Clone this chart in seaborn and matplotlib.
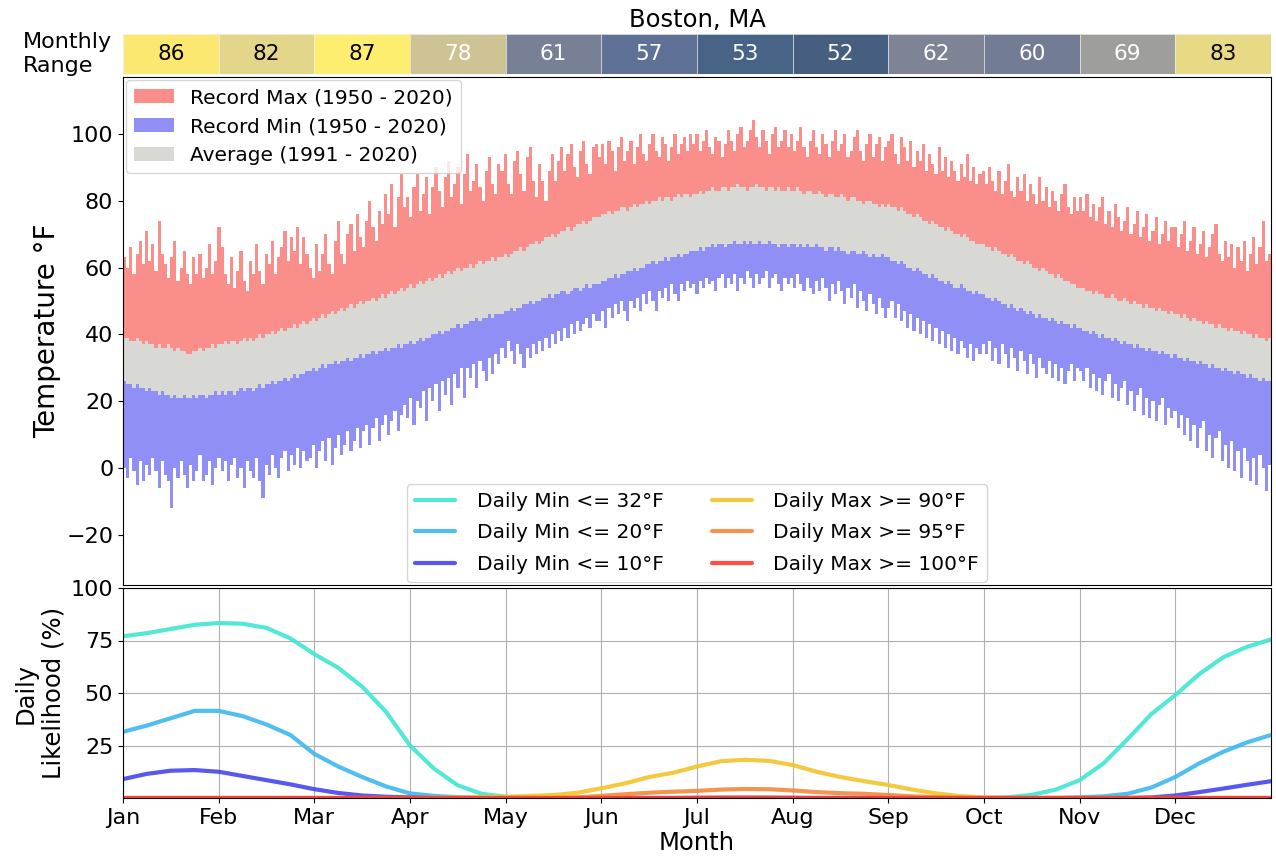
import numpy as np
import matplotlib
matplotlib.use("Agg")
import matplotlib.pyplot as plt
import seaborn as sns

# Boston, MA daily climate normals / records
month_names = ['Jan', 'Feb', 'Mar', 'Apr', 'May', 'Jun',
               'Jul', 'Aug', 'Sep', 'Oct', 'Nov', 'Dec']
month_range = [86, 82, 87, 78, 61, 57, 53, 52, 62, 60, 69, 83]

# one value per day of the year, month by month
rec_max = [
    63, 60, 66, 58, 64, 68, 61, 71, 62, 67, 59, 74, 64, 61, 57, 63, 68, 56, 60, 65, 58, 55, 63, 58, 64, 57, 60, 67, 58, 62, 72,
    66, 58, 55, 63, 54, 59, 65, 56, 53, 62, 58, 67, 59, 55, 64, 61, 68, 58, 63, 66, 71, 62, 69, 65, 72, 61, 69, 64,
    60, 57, 67, 59, 64, 70, 61, 58, 68, 74, 64, 61, 70, 73, 65, 76, 69, 66, 74, 80, 72, 68, 77, 73, 82, 76, 85, 72, 81, 88, 78,
    81, 75, 84, 88, 77, 82, 87, 76, 84, 90, 83, 78, 87, 92, 81, 85, 90, 79, 88, 94, 83, 86, 91, 84, 80, 89, 93, 85, 82, 91,
    89, 94, 85, 82, 92, 95, 88, 83, 93, 96, 86, 81, 91, 86, 80, 89, 94, 86, 92, 96, 89, 94, 97, 90, 87, 95, 98, 91, 88, 96, 97,
    93, 97, 91, 98, 95, 89, 96, 99, 92, 95, 98, 91, 96, 100, 94, 92, 97, 100, 95, 93, 99, 97, 92, 96, 100, 94, 97, 99, 95, 100,
    97, 100, 95, 98, 101, 96, 94, 99, 98, 93, 97, 101, 98, 95, 100, 102, 96, 98, 101, 104, 99, 96, 101, 98, 94, 100, 102, 96, 98, 101, 96,
    100, 95, 98, 102, 96, 93, 98, 101, 96, 94, 100, 97, 93, 98, 101, 95, 97, 100, 93, 95, 99, 101, 95, 92, 97, 100, 93, 97, 99, 92, 96,
    98, 100, 94, 91, 99, 96, 92, 98, 90, 95, 92, 97, 89, 94, 91, 88, 96, 89, 93, 87, 92, 89, 86, 91, 87, 94, 86, 90, 85, 88,
    89, 85, 90, 86, 83, 89, 82, 86, 91, 83, 81, 87, 83, 88, 80, 85, 82, 79, 87, 80, 84, 78, 83, 80, 77, 82, 85, 78, 76, 81, 77,
    81, 77, 82, 75, 79, 74, 78, 81, 73, 77, 72, 79, 75, 71, 74, 78, 70, 73, 77, 69, 72, 76, 68, 71, 75, 67, 70, 74, 68, 72,
    72, 66, 70, 74, 65, 68, 72, 64, 67, 71, 63, 66, 70, 73, 64, 62, 68, 63, 67, 60, 66, 62, 68, 59, 64, 69, 61, 66, 74, 62, 64,
]
avg_high = [
    39, 39, 38, 38, 39, 38, 37, 38, 37, 37, 36, 37, 36, 36, 37, 36, 35, 36, 35, 35, 34, 34, 35, 35, 36, 35, 36, 36, 37, 36, 37,
    37, 38, 37, 38, 38, 37, 38, 39, 38, 39, 38, 39, 40, 39, 40, 40, 41, 40, 41, 42, 41, 42, 42, 43, 42, 43, 44, 43,
    44, 45, 44, 45, 46, 45, 46, 47, 46, 47, 48, 47, 48, 49, 48, 49, 50, 49, 50, 50, 51, 50, 51, 52, 51, 52, 53, 52, 53, 54, 53,
    54, 55, 54, 55, 56, 55, 56, 57, 56, 57, 58, 57, 58, 59, 58, 59, 60, 59, 60, 60, 61, 60, 61, 62, 61, 62, 62, 63, 62, 63,
    63, 64, 63, 64, 65, 65, 66, 65, 66, 67, 67, 68, 67, 68, 69, 69, 70, 69, 70, 71, 71, 72, 71, 72, 73, 73, 74, 73, 74, 75, 75,
    75, 76, 76, 77, 76, 77, 77, 78, 78, 77, 78, 79, 78, 79, 79, 80, 79, 80, 80, 81, 80, 81, 81, 80, 81, 82, 81, 82, 82, 81,
    82, 82, 83, 82, 83, 83, 84, 83, 83, 84, 84, 83, 84, 84, 85, 84, 84, 83, 84, 84, 85, 84, 84, 83, 84, 84, 83, 84, 83, 83, 84,
    83, 83, 84, 83, 82, 83, 83, 82, 82, 83, 82, 81, 82, 82, 81, 81, 82, 81, 80, 81, 81, 80, 80, 79, 80, 80, 79, 79, 78, 79, 78,
    79, 78, 78, 77, 78, 77, 76, 76, 75, 76, 75, 74, 74, 73, 74, 73, 72, 72, 71, 72, 71, 70, 70, 69, 70, 69, 68, 68, 67, 67,
    67, 66, 66, 65, 66, 65, 64, 64, 63, 64, 63, 62, 62, 61, 62, 61, 60, 60, 59, 60, 59, 58, 58, 57, 58, 57, 56, 56, 55, 55, 54,
    54, 54, 53, 53, 52, 53, 52, 52, 51, 51, 52, 51, 50, 50, 51, 50, 49, 50, 49, 49, 48, 49, 48, 48, 47, 48, 47, 47, 46, 47,
    46, 46, 45, 46, 45, 44, 45, 44, 44, 43, 44, 43, 43, 42, 43, 42, 42, 41, 42, 41, 41, 40, 41, 40, 40, 39, 40, 39, 39, 38, 39,
]
avg_low = [
    26, 25, 25, 24, 25, 24, 24, 23, 24, 23, 23, 22, 23, 22, 22, 21, 22, 21, 21, 22, 21, 21, 22, 21, 22, 22, 21, 22, 22, 23, 22,
    23, 22, 23, 23, 22, 23, 24, 23, 24, 24, 23, 24, 25, 24, 25, 25, 26, 25, 26, 26, 27, 26, 27, 28, 27, 28, 28, 29,
    29, 30, 29, 30, 31, 30, 31, 31, 32, 31, 32, 32, 33, 32, 33, 33, 34, 33, 34, 34, 35, 34, 35, 35, 36, 35, 36, 36, 37, 36, 37,
    37, 38, 37, 38, 39, 38, 39, 39, 40, 40, 41, 40, 41, 41, 42, 42, 43, 42, 43, 43, 44, 44, 45, 44, 45, 45, 46, 45, 46, 46,
    46, 47, 47, 48, 47, 48, 48, 49, 49, 50, 49, 50, 50, 51, 51, 52, 51, 52, 52, 53, 53, 52, 53, 54, 54, 53, 54, 55, 54, 55, 55,
    55, 56, 56, 57, 57, 58, 57, 58, 58, 59, 59, 60, 59, 60, 60, 61, 61, 62, 61, 62, 62, 63, 62, 63, 63, 64, 63, 64, 64, 65,
    65, 65, 66, 65, 66, 66, 67, 66, 67, 67, 66, 67, 67, 68, 67, 67, 68, 67, 68, 67, 67, 68, 67, 67, 68, 67, 67, 66, 67, 67, 66,
    67, 67, 66, 67, 66, 67, 66, 66, 67, 66, 66, 65, 66, 66, 65, 66, 65, 65, 64, 65, 65, 64, 64, 65, 64, 63, 64, 63, 63, 64, 63,
    63, 62, 62, 61, 62, 61, 60, 60, 59, 60, 59, 58, 58, 57, 58, 57, 56, 56, 55, 56, 55, 54, 54, 55, 54, 53, 53, 52, 53, 52,
    52, 51, 51, 50, 51, 50, 49, 49, 48, 49, 48, 47, 48, 47, 46, 47, 46, 45, 46, 45, 45, 44, 45, 44, 43, 44, 43, 43, 42, 43, 42,
    42, 41, 41, 40, 41, 40, 39, 40, 39, 39, 38, 39, 38, 37, 38, 37, 37, 36, 37, 36, 36, 35, 36, 35, 35, 34, 35, 34, 34, 33,
    34, 33, 33, 32, 33, 32, 32, 31, 32, 31, 31, 30, 31, 30, 30, 29, 30, 29, 29, 28, 29, 28, 28, 27, 28, 27, 27, 26, 27, 26, 26,
]
rec_min = [
    0, -3, 3, -1, -5, 2, -4, 1, -2, 3, -1, -6, 2, -2, -4, -12, 0, -3, 2, -2, -6, 1, -4, -1, 4, -4, -2, 2, -5, 0, 3,
    -1, 2, -4, 1, 3, -3, 0, -6, 2, -1, -3, 3, -4, -9, 1, -2, 4, 0, -3, 3, 5, -1, 4, 1, 6, 0, 5, 2,
    3, 7, 0, 5, 8, 2, 9, 1, 6, 10, 4, 7, 11, 5, 8, 12, 6, 11, 13, 7, 12, 15, 8, 13, 16, 10, 14, 17, 11, 16, 19,
    15, 21, 13, 20, 18, 23, 14, 24, 20, 25, 17, 26, 22, 27, 19, 28, 24, 30, 21, 30, 27, 31, 24, 32, 29, 26, 33, 28, 34, 31,
    36, 33, 38, 35, 31, 37, 34, 30, 36, 33, 37, 34, 38, 35, 39, 36, 40, 37, 41, 38, 42, 39, 43, 40, 44, 41, 43, 45, 42, 46, 44,
    44, 47, 42, 48, 45, 49, 46, 50, 47, 44, 50, 48, 51, 47, 52, 49, 53, 50, 47, 53, 51, 54, 50, 55, 52, 50, 55, 53, 56, 54,
    55, 52, 56, 54, 57, 55, 56, 53, 57, 58, 54, 57, 55, 58, 53, 57, 55, 59, 57, 54, 58, 55, 57, 59, 54, 57, 58, 55, 53, 57, 55,
    57, 54, 58, 55, 53, 57, 54, 52, 56, 53, 57, 54, 50, 55, 52, 56, 53, 49, 54, 51, 55, 48, 53, 50, 47, 52, 49, 46, 51, 48, 45,
    48, 50, 45, 49, 44, 47, 42, 46, 41, 45, 40, 44, 39, 43, 38, 42, 37, 41, 36, 40, 35, 39, 34, 38, 36, 33, 37, 32, 36, 34,
    37, 34, 38, 32, 36, 31, 37, 34, 30, 36, 33, 29, 35, 32, 28, 34, 31, 27, 33, 30, 28, 32, 27, 31, 26, 30, 25, 29, 31, 26, 30,
    29, 26, 30, 24, 28, 23, 27, 22, 26, 28, 21, 25, 20, 24, 26, 19, 23, 17, 22, 24, 16, 21, 15, 20, 14, 19, 21, 13, 18, 15,
    17, 12, 16, 10, 15, 8, 13, 6, 12, 14, 5, 10, 3, 9, 11, 2, 7, 0, 8, -1, 5, -3, 6, 2, -4, 3, -5, 4, 0, -7, 1,
]

# daily likelihood (%), sampled four times per month (49 points, Jan 1 .. Dec 31)
like_min32 = [77, 78.5, 80.5, 82.5, 83.3, 83, 81, 76, 68.5, 62, 53, 41, 25, 14, 6, 2, 0.6, 0.2,
              0, 0, 0, 0, 0, 0, 0, 0, 0, 0, 0, 0, 0, 0, 0, 0, 0, 0,
              0, 0.3, 1.5, 4, 8.5, 16.5, 28, 40, 49, 59, 67, 72, 75.5]
like_min20 = [31.5, 34.5, 38, 41.5, 41.5, 39, 35, 30, 21, 15, 10, 5.5, 2.2, 1, 0.4, 0,
              0, 0, 0, 0, 0, 0, 0, 0, 0, 0, 0, 0, 0, 0, 0, 0, 0, 0, 0, 0, 0, 0, 0, 0,
              0.3, 0.8, 2, 5, 10, 16.5, 22, 26.5, 30]
like_min10 = [9, 11.5, 13, 13.3, 12.5, 10.5, 8.5, 6.5, 4.2, 2.4, 1.2, 0.6, 0.3,
              0, 0, 0, 0, 0, 0, 0, 0, 0, 0, 0, 0, 0, 0, 0, 0, 0, 0, 0, 0, 0, 0, 0, 0, 0, 0, 0, 0, 0, 0,
              0.3, 1.2, 2.8, 4.5, 6.3, 8]
like_max90 = [0, 0, 0, 0, 0, 0, 0, 0, 0, 0, 0, 0, 0,
              0.1, 0.2, 0.4, 0.6, 1, 1.4, 2.5, 4.6, 7, 10, 12, 15, 17.5, 18.2, 17.7, 15.7,
              12.5, 10, 8, 6.2, 4, 2.2, 0.9, 0.3,
              0, 0, 0, 0, 0, 0, 0, 0, 0, 0, 0, 0]
like_max95 = [0, 0, 0, 0, 0, 0, 0, 0, 0, 0, 0, 0, 0, 0, 0, 0, 0, 0, 0,
              0.3, 1, 1.8, 2.5, 3, 3.4, 4, 4.3, 4.2, 3.6, 2.8, 2.3, 2, 1.4, 0.8, 0.4, 0.2,
              0, 0, 0, 0, 0, 0, 0, 0, 0, 0, 0, 0, 0]
like_max100 = [0, 0, 0, 0, 0, 0, 0, 0, 0, 0, 0, 0, 0, 0, 0, 0, 0, 0, 0, 0, 0, 0, 0, 0,
               0.1, 0.2, 0.2, 0.2, 0.1,
               0, 0, 0, 0, 0, 0, 0, 0, 0, 0, 0, 0, 0, 0, 0, 0, 0, 0, 0, 0]

like_series = [
    ('Daily Min <= 32°F', like_min32, '#40E6D2'),
    ('Daily Min <= 20°F', like_min20, '#3DB8EE'),
    ('Daily Min <= 10°F', like_min10, '#4646F0'),
    ('Daily Max >= 90°F', like_max90, '#F2C42A'),
    ('Daily Max >= 95°F', like_max95, '#F28A3C'),
    ('Daily Max >= 100°F', like_max100, '#FF3B30'),
]

sns.set_style("ticks", {"axes.edgecolor": "black", "xtick.color": "black",
                        "ytick.color": "black", "text.color": "black",
                        "axes.labelcolor": "black"})
plt.rcParams['font.family'] = ['DejaVu Sans']

n_days = 365
days = np.arange(len(rec_max)) + 0.5
like_days = np.arange(len(like_min32)) * n_days / (len(like_min32) - 1)
month_ticks = np.arange(12) * n_days / 12

W, H = 1276, 857
fig = plt.figure(figsize=(W / 100, H / 100), dpi=100)
left, right = 123 / W, 1271 / W
ax_strip = fig.add_axes([left, 1 - 74 / H, right - left, 40 / H])
ax_top = fig.add_axes([left, 1 - 585 / H, right - left, 508 / H])
ax_low = fig.add_axes([left, 1 - 798 / H, right - left, 210 / H])

# --- monthly range strip ---
sns.heatmap(np.array([month_range]), ax=ax_strip, cmap='cividis', cbar=False,
            alpha=0.72, linewidths=0.6, linecolor='#f4f4f4')
for i, v in enumerate(month_range):
    ax_strip.text(i + 0.5, 0.5, str(v), ha='center', va='center', fontsize=15.5,
                  color='black' if v >= 80 else 'white')
ax_strip.set_xticks([])
ax_strip.set_yticks([])
ax_strip.set_xlabel('')
ax_strip.set_ylabel('')
ax_strip.set_title('Boston, MA', fontsize=17.5, pad=5)
fig.text(23 / W, 1 - 54 / H, 'Monthly\nRange', ha='left', va='center', fontsize=16)

# --- daily records / normals ---
rec_max_a, rec_min_a = np.array(rec_max), np.array(rec_min)
avg_high_a, avg_low_a = np.array(avg_high), np.array(avg_low)
b_max = ax_top.bar(days, rec_max_a - avg_high_a, bottom=avg_high_a, width=1.0,
                   color='#F98E8A', linewidth=0, label='Record Max (1950 - 2020)')
b_min = ax_top.bar(days, avg_low_a - rec_min_a, bottom=rec_min_a, width=1.0,
                   color='#8F8FF6', linewidth=0, label='Record Min (1950 - 2020)')
b_avg = ax_top.bar(days, avg_high_a - avg_low_a, bottom=avg_low_a, width=1.0,
                   color='#D8D8D4', linewidth=0, label='Average (1991 - 2020)')
ax_top.set_xlim(0, n_days)
ax_top.set_ylim(-35, 117)
ax_top.set_yticks([-20, 0, 20, 40, 60, 80, 100])
ax_top.set_xticks(month_ticks)
ax_top.tick_params(axis='x', bottom=False, labelbottom=False)
ax_top.tick_params(axis='y', labelsize=16)
ax_top.set_ylabel('Temperature °F', fontsize=20)

leg1 = ax_top.legend(handles=[b_max, b_min, b_avg], loc='upper left', fontsize=14.5,
                     frameon=True, borderaxespad=0.15, framealpha=0.8)
ax_top.add_artist(leg1)

# --- daily likelihood curves ---
for lab, vals, col in like_series:
    sns.lineplot(x=like_days, y=vals, ax=ax_low, color=col, linewidth=3,
                 alpha=0.9, label=lab)
handles, labels = ax_low.get_legend_handles_labels()
if ax_low.get_legend() is not None:
    ax_low.get_legend().remove()
ax_top.legend(handles, labels, loc='lower center', ncol=2, fontsize=14.5,
              frameon=True, borderaxespad=0.15, framealpha=0.8,
              columnspacing=2.4, handletextpad=1.05, labelspacing=0.62)

ax_low.set_xlim(0, n_days)
ax_low.set_ylim(0, 100)
ax_low.set_yticks([25, 50, 75, 100])
ax_low.set_xticks(month_ticks)
ax_low.set_xticklabels(month_names)
ax_low.tick_params(labelsize=16)
ax_low.grid(True, color='#b0b0b0', linewidth=0.8)
ax_low.set_xlabel('Month', fontsize=17.5, labelpad=2)
ax_low.set_ylabel('Daily\nLikelihood (%)', fontsize=17.5)

fig.savefig('out.png', dpi=100)
